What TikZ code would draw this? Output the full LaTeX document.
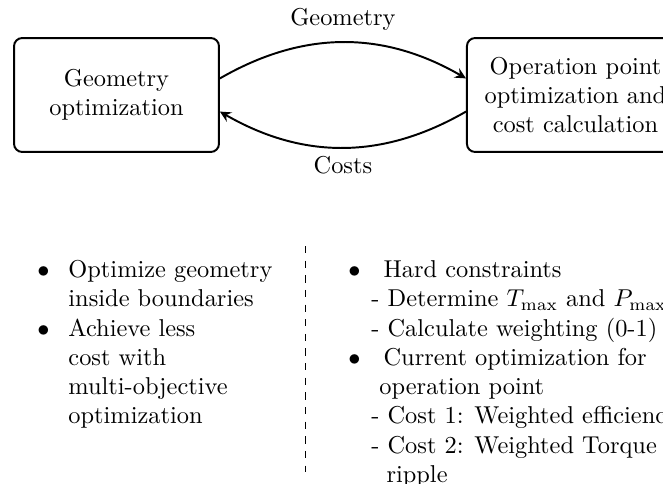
\documentclass[tikz,border=0pt]{standalone}
\usepackage{amsmath}
\usepackage{tikz}
\usetikzlibrary{arrows.meta}

% bullet with a fixed indent
\newcommand{\itembul}[1]{\makebox[#1][l]{$\bullet$}}

\begin{document}
\begin{tikzpicture}[
    x=0.41pt,y=-0.41pt,
    block/.style={draw, thick, rounded corners=3.3pt, align=center,
      minimum height=46.7pt, inner sep=0pt},
    edge/.style={-{Stealth[length=4.5pt,width=4.4pt,inset=1.6pt]}, thick},
    sep/.style={dashed, line width=0.45pt},
    notes/.style={align=left, anchor=north west, inner sep=0pt}
  ]
    \useasboundingbox (0,0) rectangle (663,484);
    \clip (0,0) rectangle (663,484);

    \node[block, minimum width=84pt] (geo) at (116.5,95)
      {Geometry\\optimization};
    \node[block, minimum width=89pt] (oper) at (575.5,95)
      {Operation point\\optimization and\\cost calculation};

    \draw[edge] ([yshift=6.8pt]geo.east) to[bend left=30]
      node[above=1pt] {Geometry} ([yshift=6.8pt]oper.west);
    \draw[edge] ([yshift=-6.8pt]oper.west) to[bend left=30]
      node[below] {Costs} ([yshift=-6.8pt]geo.east);

    % divider between the two lists
    \coordinate (septop) at (305.7,246);
    \coordinate (sepbot) at (305.7,472);
    \draw[sep] (septop) -- (sepbot);

    \node[notes] (geonotes) at (37,256.5)
      {\strut\itembul{12.7pt}Optimize geometry\\
       \hspace*{12.7pt}inside boundaries\\
       \itembul{12.7pt}Achieve less\\
       \hspace*{12.7pt}cost with\\
       \hspace*{12.7pt}multi-objective\\
       \hspace*{12.7pt}optimization};
    \node[notes] (opernotes) at (348,256.5)
      {\strut\itembul{14.4pt}Hard constraints\\
       \hspace*{9.4pt}- Determine $T_{\max}$ and $P_{\max}$\\
       \hspace*{9.4pt}- Calculate weighting (0-1)\\
       \itembul{14.4pt}Current optimization for\\
       \hspace*{12.7pt}operation point\\
       \hspace*{9.4pt}- Cost 1: Weighted efficiency\\
       \hspace*{9.4pt}- Cost 2: Weighted Torque\\
       \hspace*{15.6pt}ripple};
\end{tikzpicture}
\end{document}
